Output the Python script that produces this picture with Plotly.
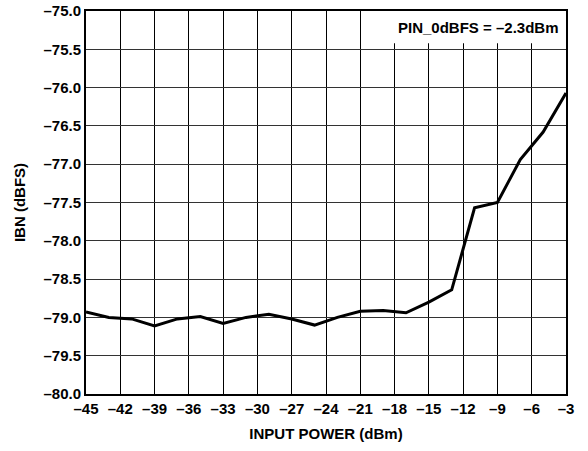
import plotly.graph_objects as go

input_power = [-45, -43, -41, -39, -37, -35, -33, -31, -29, -27, -25,
               -23, -21, -19, -17, -15, -13, -11, -9, -7, -5, -3]
ibn = [-78.93, -79.00, -79.02, -79.11, -79.02, -78.99, -79.08, -79.00, -78.96, -79.02, -79.10,
       -79.00, -78.92, -78.91, -78.94, -78.80, -78.64, -77.57, -77.50, -76.94, -76.58, -76.07]
x_ticks = list(range(-45, -2, 3))
y_ticks = [-80 + 0.5 * i for i in range(11)]

def fmt(v, d):
    s = f"{abs(v):.{d}f}"
    return ("\u2013" + s) if v < 0 else s

FONT = "Liberation Sans, Arial, sans-serif"
FS = 15

fig = go.Figure()
fig.add_trace(go.Scatter(x=input_power, y=ibn, mode="lines",
                         line=dict(color="black", width=3), showlegend=False))

fig.add_shape(type="rect", xref="x", yref="y", x0=-20.85, x1=-3, y0=-75.42, y1=-75,
              fillcolor="white", line=dict(width=0), layer="between")
fig.add_annotation(x=1, y=1, xref="paper", yref="paper", xanchor="right", yanchor="top",
                   xshift=-6, yshift=-6, showarrow=False,
                   text="<b>PIN_0dBFS = \u20132.3dBm</b>",
                   font=dict(family=FONT, size=FS, color="black"))

fig.update_xaxes(range=[-45, -3], tickvals=x_ticks, ticktext=[f"<b>{fmt(v,0)}</b>" for v in x_ticks],
                 showgrid=True, gridcolor="black", gridwidth=1.4, automargin=False,
                 showline=True, linecolor="black", linewidth=2, mirror=True,
                 ticks="", zeroline=False,
                 tickfont=dict(family=FONT, size=FS, color="black"),
                 title=dict(text="<b>INPUT POWER (dBm)</b>", font=dict(family=FONT, size=FS, color="black"),
                            standoff=12))
fig.update_yaxes(range=[-80, -75], tickvals=y_ticks, ticktext=[f"<b>{fmt(v,1)}</b>" for v in y_ticks],
                 showgrid=True, gridcolor="#333", gridwidth=1.4, automargin=False,
                 showline=True, linecolor="black", linewidth=2, mirror=True,
                 ticks="", zeroline=False,
                 tickfont=dict(family=FONT, size=FS, color="black"),
                 title=dict(text="<b>IBN (dBFS)</b>", font=dict(family=FONT, size=FS, color="black"),
                            standoff=14))

fig.update_layout(width=588, height=451, margin=dict(l=86, r=22, t=11, b=57),
                  plot_bgcolor="white", paper_bgcolor="white")
fig.write_html("out.html", post_script="document.body.style.margin='0';",
               config={"displayModeBar": False})
